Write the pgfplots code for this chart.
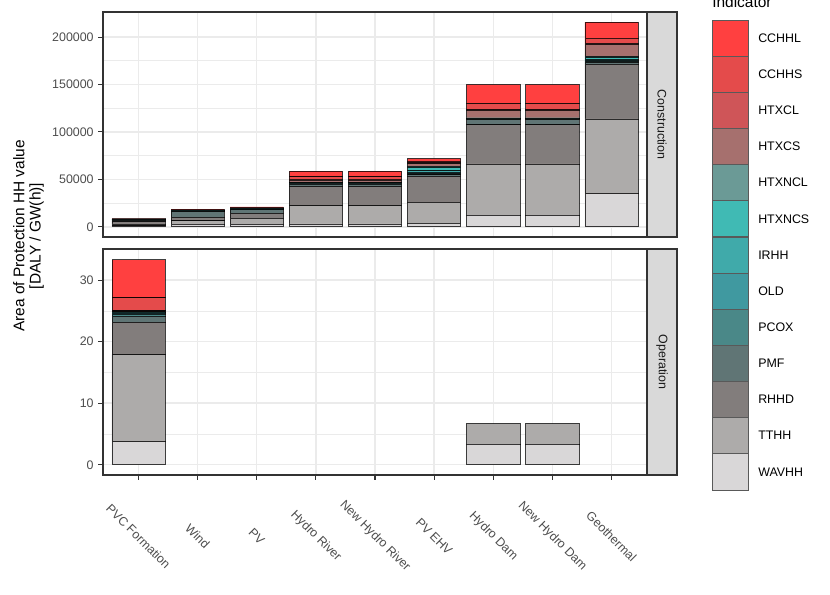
\documentclass[border=0pt]{standalone}
\usepackage{pgfplots}
\pgfplotsset{compat=1.18}
\usepackage{pgfplotstable}
\usepackage{fontspec}
\setmainfont{Liberation Sans}

\definecolor{cCCHHL}{RGB}{255,64,64}
\definecolor{cCCHHS}{RGB}{228,75,75}
\definecolor{cHTXCL}{RGB}{207,85,88}
\definecolor{cHTXCS}{RGB}{166,112,110}
\definecolor{cHTXNCL}{RGB}{107,154,150}
\definecolor{cHTXNCS}{RGB}{64,186,180}
\definecolor{cIRHH}{RGB}{64,170,170}
\definecolor{cOLD}{RGB}{64,153,160}
\definecolor{cPCOX}{RGB}{74,136,136}
\definecolor{cPMF}{RGB}{96,117,117}
\definecolor{cRHHD}{RGB}{130,125,124}
\definecolor{cTTHH}{RGB}{173,171,170}
\definecolor{cWAVHH}{RGB}{217,215,216}
\definecolor{cbord}{RGB}{51,51,51}
\definecolor{cgrid}{RGB}{235,235,235}
\definecolor{ctick}{RGB}{77,77,77}
\definecolor{cstrip}{RGB}{217,217,217}

\pgfplotstableread{
x WAVHH TTHH RHHD PMF PCOX OLD IRHH HTXNCS HTXNCL HTXCS HTXCL CCHHS CCHHL
0 1000 2100 2450 1300 600 250 100 50 50 150 50 100 200
1 2800 3500 3850 5700 700 200 100 50 50 150 100 300 1000
2 2800 6300 5200 3650 600 300 100 50 50 200 100 300 1250
3 3100 19200 20300 2400 1000 400 200 100 100 2500 1000 2400 5900
4 3100 19200 20300 2400 1000 400 200 100 100 2500 1000 2400 5900
5 3900 22000 27500 1400 1400 1500 1500 3500 1200 2800 1000 1700 2500
6 12200 54100 41200 5500 1200 300 150 100 50 8000 700 6300 20200
7 12200 54100 41200 5500 1200 300 150 100 50 8000 700 6300 20200
8 35300 78500 57600 2000 1000 1200 1000 2000 1200 12600 1000 5600 16700
}\constr

\pgfplotstableread{
x WAVHH TTHH RHHD PMF PCOX OLD IRHH HTXNCS HTXNCL HTXCS HTXCL CCHHS CCHHL
0 3.8 14.1 5.3 1.0 0.3 0.15 0.1 0.1 0.05 0.15 0.1 2.0 6.2
6 3.35 3.35 0 0 0 0 0 0 0 0 0 0 0
7 3.35 3.35 0 0 0 0 0 0 0 0 0 0 0
}\oper

\pgfplotsset{
  panel/.style={
    scale only axis, width=408pt,
    xmin=-0.6, xmax=8.6,
    ybar stacked, bar width=0.9,
    axis line style={color=cbord, line width=0.8pt},
    xtick={0,...,8},
    xmajorgrids, ymajorgrids, yminorgrids, minor y tick num=1,
    major grid style={color=cgrid, line width=1.1pt},
    minor grid style={color=cgrid, line width=0.55pt},
    tick align=outside, major tick length=3.5pt, minor tick length=0pt,
    tick style={color=cbord, line width=0.8pt},
    ytick pos=left, xtick pos=bottom,
    yticklabel style={font=\fontsize{9.3}{10}\selectfont, text=ctick,
      /pgf/number format/fixed, /pgf/number format/precision=0,
      /pgf/number format/1000 sep={}, /pgf/number format/assume math mode=true},
    scaled y ticks=false,
    every axis plot/.append style={draw=black, draw opacity=0.75, line width=0.5pt},
  },
}

\begin{document}
\begin{tikzpicture}
\useasboundingbox (0,0) rectangle (622.5pt,445.5pt);

% Construction panel
\begin{axis}[panel, at={(77.25pt,267.75pt)}, anchor=south west, height=168.75pt,
  ymin=-10785, ymax=226485, ytick={0,50000,100000,150000,200000},
  xticklabels={}, xtick style={draw=none}]
\pgfplotsinvokeforeach{WAVHH,TTHH,RHHD,PMF,PCOX,OLD,IRHH,HTXNCS,HTXNCL,HTXCS,HTXCL,CCHHS,CCHHL}{
  \addplot[fill=c#1] table[x=x,y=#1]{\constr};
}
\end{axis}

% Operation panel
\begin{axis}[panel, at={(77.25pt,89.25pt)}, anchor=south west, height=169.5pt,
  ymin=-1.67, ymax=35.07, ytick={0,10,20,30},
  xticklabels={PVC Formation, Wind, PV, Hydro River, New Hydro River, PV EHV, Hydro Dam, New Hydro Dam, Geothermal},
  xticklabel style={font=\fontsize{9.3}{10}\selectfont, text=ctick, anchor=center, yshift=-42.5pt, rotate=-45}]
\pgfplotsinvokeforeach{WAVHH,TTHH,RHHD,PMF,PCOX,OLD,IRHH,HTXNCS,HTXNCL,HTXCS,HTXCL,CCHHS,CCHHL}{
  \addplot[fill=c#1] table[x=x,y=#1]{\oper};
}
\end{axis}

% strips
\draw[fill=cstrip, draw=cbord, line width=0.8pt] (485.5pt,267.75pt) rectangle (507.75pt,436.5pt);
\node[rotate=-90, font=\fontsize{9.3}{10}\selectfont, text=black!90] at (496.6pt,352.1pt) {Construction};
\draw[fill=cstrip, draw=cbord, line width=0.8pt] (485.5pt,89.25pt) rectangle (507.75pt,258.75pt);
\node[rotate=-90, font=\fontsize{9.3}{10}\selectfont, text=black!90] at (496.6pt,174pt) {Operation};

% y title
\node[rotate=90, align=center, font=\fontsize{11.6}{12.3}\selectfont] at (21.4pt,268.5pt)
  {Area of Protection HH value\\{[DALY / GW(h)]}};

% legend
\node[anchor=base west, font=\fontsize{11.6}{12}\selectfont, inner sep=0pt] at (534pt,439.5pt) {Indicator};
\foreach \n [count=\i from 0] in {CCHHL,CCHHS,HTXCL,HTXCS,HTXNCL,HTXNCS,IRHH,OLD,PCOX,PMF,RHHD,TTHH,WAVHH}{
  \pgfmathsetmacro{\yt}{(594-20-36.15*\i)*0.75}
  \pgfmathsetmacro{\yb}{\yt-27.11}
  \pgfmathsetmacro{\ym}{\yt-13.555}
  \draw[fill=c\n, draw=black!65, line width=0.6pt] (534.5pt,\yb pt) rectangle (561pt,\yt pt);
  \node[anchor=west, font=\fontsize{9.3}{10}\selectfont, inner sep=0pt] at (568.5pt,\ym pt) {\n};
}
\end{tikzpicture}
\end{document}
